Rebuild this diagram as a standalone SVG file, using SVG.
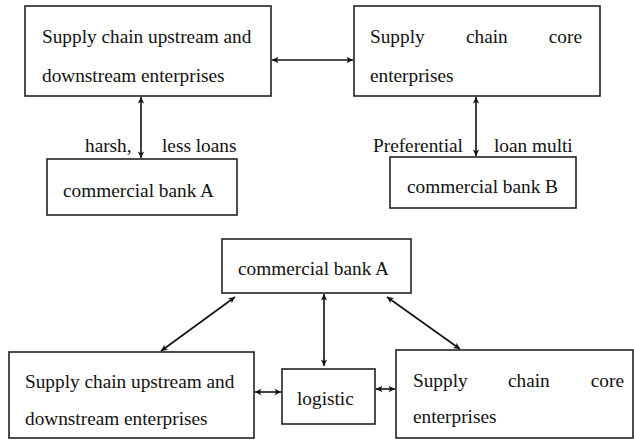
<svg xmlns="http://www.w3.org/2000/svg" width="634" height="441" viewBox="0 0 634 441">
  <defs>
    <marker id="head" viewBox="0 0 10 10" refX="9" refY="5" markerWidth="8" markerHeight="8" markerUnits="userSpaceOnUse" orient="auto-start-reverse">
      <path d="M1,1 L9,5 L1,9 L3,5 Z" fill="#111"/>
    </marker>
    <style>
      .box { fill: #fff; stroke: #222; stroke-width: 1.6; }
      .lbl { font-family: "Liberation Serif", "Times New Roman", serif; font-size: 19.3px; fill: #111; }
      .link { stroke: #111; stroke-width: 1.6; fill: none; marker-start: url(#head); marker-end: url(#head); }
    </style>
  </defs>
  <rect width="634" height="441" fill="#fff"/>

  <!-- upper diagram -->
  <g id="top-updown">
    <rect class="box" x="25" y="6" width="246" height="90"/>
    <text class="lbl" x="42" y="43">Supply chain upstream and</text>
    <text class="lbl" x="42" y="82">downstream enterprises</text>
  </g>
  <g id="top-core">
    <rect class="box" x="354" y="6" width="246" height="90"/>
    <text class="lbl" x="370" y="43">Supply</text>
    <text class="lbl" x="466" y="43">chain</text>
    <text class="lbl" x="582" y="43" text-anchor="end">core</text>
    <text class="lbl" x="370" y="82">enterprises</text>
  </g>
  <g id="top-bank-a">
    <rect class="box" x="47" y="159" width="190" height="56"/>
    <text class="lbl" x="63" y="197">commercial bank A</text>
  </g>
  <g id="top-bank-b">
    <rect class="box" x="390" y="157" width="186" height="51"/>
    <text class="lbl" x="407" y="193">commercial bank B</text>
  </g>

  <!-- lower diagram -->
  <g id="bottom-bank-a">
    <rect class="box" x="222" y="239" width="189" height="54"/>
    <text class="lbl" x="238" y="275">commercial bank A</text>
  </g>
  <g id="bottom-updown">
    <rect class="box" x="9" y="352" width="245" height="86"/>
    <text class="lbl" x="25" y="388">Supply chain upstream and</text>
    <text class="lbl" x="25" y="425">downstream enterprises</text>
  </g>
  <g id="bottom-logistic">
    <rect class="box" x="282" y="369" width="93" height="55"/>
    <text class="lbl" x="297" y="405">logistic</text>
  </g>
  <g id="bottom-core">
    <rect class="box" x="396" y="350" width="237" height="88"/>
    <text class="lbl" x="413" y="387">Supply</text>
    <text class="lbl" x="508" y="387">chain</text>
    <text class="lbl" x="624" y="387" text-anchor="end">core</text>
    <text class="lbl" x="413" y="423">enterprises</text>
  </g>

  <!-- connectors -->
  <g id="connectors">
    <line class="link" x1="272" y1="60" x2="353" y2="60"/>
    <line class="link" x1="141" y1="97" x2="141" y2="158"/>
    <line class="link" x1="476" y1="97" x2="476" y2="156"/>
    <line class="link" x1="235" y1="297" x2="161" y2="351"/>
    <line class="link" x1="324" y1="294" x2="324" y2="366"/>
    <line class="link" x1="387" y1="297" x2="460" y2="349"/>
    <line class="link" x1="255" y1="392" x2="281" y2="392"/>
    <line class="link" x1="376" y1="389" x2="395" y2="389"/>
  </g>

  <!-- connector labels -->
  <g id="edge-labels">
    <text class="lbl" x="85" y="152">harsh,</text>
    <text class="lbl" x="162" y="152">less loans</text>
    <text class="lbl" x="373" y="152">Preferential</text>
    <text class="lbl" x="494" y="152">loan multi</text>
  </g>
</svg>
